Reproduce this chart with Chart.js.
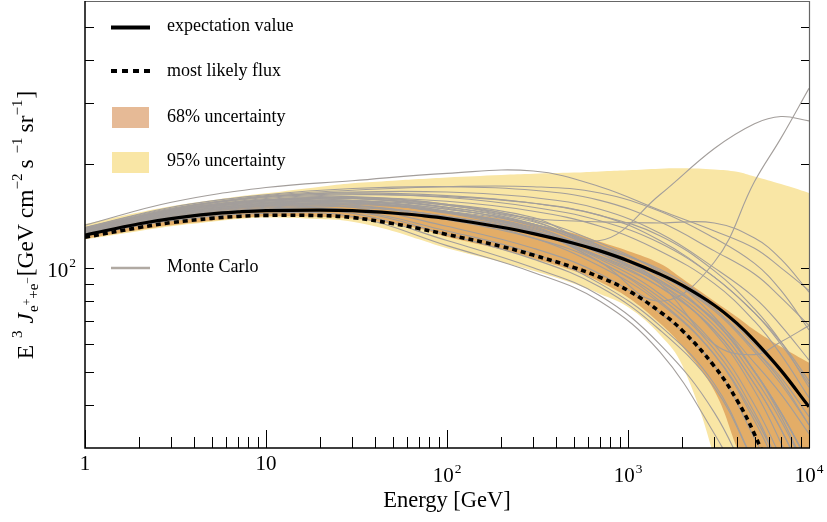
<!DOCTYPE html>
<html>
<head>
<meta charset="utf-8">
<script src="https://cdn.jsdelivr.net/npm/chart.js@4.4.1/dist/chart.umd.min.js"></script>
<style>
html, body { margin: 0; padding: 0; background: #fff; }
#wrap { width: 827px; height: 522px; }
</style>
</head>
<body>
<div id="wrap"><canvas id="grafico" width="827" height="522"></canvas></div>
<script>
// energies [GeV] where the bands and the two flux curves were read
const energy = [1, 2, 3, 5, 7, 10, 20, 30, 50, 70, 100, 200, 300, 500, 700, 1000, 1500, 2000, 3000, 4000, 5000, 7000, 10000];
const expectation = [124.5, 134.3, 139, 143.4, 145.3, 146.6, 147.1, 146.5, 144.3, 142.1, 139.1, 131.2, 125.7, 117.9, 112, 104.9, 95.9, 88.9, 77.9, 69, 61.5, 50.4, 39.5];
const mostLikely = [122.7, 131, 135.3, 139.2, 141, 142, 141.8, 140, 134.5, 130, 125, 115.4, 108.9, 100.3, 93.9, 86, 74.6, 65.7, 51.8, 41.3, 32.9, 21.5, 12.3];
const upper68 = [128, 137, 142, 147, 150, 152, 154, 154, 152, 150, 146, 139, 134, 126, 119, 112, 103, 93, 80, 72, 66, 59, 53];
const lower68 = [121.5, 129, 133, 137, 139.5, 141, 140.5, 139, 134, 130, 123, 113, 106.5, 98, 91, 82, 69, 59, 44, 30, 22, 14, 8];
const upper95 = [134, 145, 151, 157, 161, 164.5, 172, 176, 179, 181, 183, 186, 187.5, 189, 190.5, 192, 194, 194.5, 193, 190, 184, 175, 165];
const lower95 = [121, 128, 132, 136, 138.5, 140, 138.5, 136, 128, 121, 114, 104, 98, 90, 84, 77, 64, 52, 28, 14, 9, 6, 4];

// Monte Carlo curves, read on a coarser grid
const mcEnergy = [1, 3, 10, 30, 100, 300, 700, 1500, 3000, 5000, 7000, 10000];
const monteCarlo = [
    [128, 145, 156, 160, 156, 146, 132, 112, 90, 70, 56, 42],
    [127, 143, 153, 156, 148, 134, 116, 98, 76, 58, 47, 35],
    [129, 146, 157, 160, 152, 138, 118, 97, 72, 50, 37, 25],
    [126, 141, 151, 153, 146, 133, 114, 96, 76, 58, 48, 37],
    [130, 148, 160, 164, 160, 150, 137, 118, 94, 74, 61, 47],
    [127, 142, 152, 154, 145, 130, 110, 90, 68, 48, 36, 25],
    [128, 144, 154, 155, 145, 127, 106, 84, 60, 40, 28, 18],
    [126, 140, 149, 150, 141, 127, 108, 88, 66, 46, 34, 23],
    [129, 147, 157, 159, 150, 134, 112, 90, 65, 44, 31, 20],
    [131, 149, 161, 165, 162, 154, 142, 124, 98, 76, 61, 45],
    [125, 139, 148, 147, 128, 110, 90, 68, 46, 27],
    [127, 143, 152, 152, 140, 122, 101, 79, 56, 37, 26, 17],
    [128, 145, 155, 157, 150, 136, 115, 99, 78, 60, 50, 40],
    [126, 141, 150, 151, 141, 126, 108, 91, 71, 53, 43, 33],
    [130, 147, 158, 161, 153, 137, 113, 94, 70, 50, 38, 27],
    [129, 146, 156, 157, 146, 128, 104, 82, 58, 38, 26, 17],
    [127, 142, 151, 150, 132, 114, 96, 74, 52, 32, 22],
    [128, 144, 153, 154, 145, 131, 111, 95, 75, 57, 46, 35],
    [126, 140, 148, 146, 125, 106, 88, 66, 45, 27],
    [129, 146, 157, 159, 149, 132, 110, 92, 70, 50, 38, 27],
    [125, 138, 146, 144, 120, 100, 83, 60, 38, 22],
    [128, 145, 155, 156, 146, 129, 107, 88, 66, 46, 34, 23],
    [124, 137, 144, 141, 116, 97, 80, 57, 33, 20],
    [127, 143, 152, 152, 138, 122, 104, 80, 56, 36, 25],
    [128, 144, 154, 155, 144, 128, 113, 92, 70, 50, 38, 27],
    [133, 155, 171, 179, 188, 191, 172, 147, 128, 114, 100, 86],
    [129, 146, 157, 160, 153, 140, 120, 163, 222, 262, 275, 267],
    [128, 144, 154, 155, 145, 128, 104, 80, 104, 178, 238, 332],
    [130, 146, 157, 159, 152, 139, 136, 135, 135, 122, 106, 85],
    [130, 148, 162, 168, 172, 172, 165, 146, 122, 103, 86, 66],
    [131, 150, 163, 170, 172, 168, 157, 136, 112, 96, 82, 68],
    [130, 148, 161, 166, 166, 160, 148, 126, 100, 82, 68, 54],
    [129, 147, 159, 163, 161, 154, 142, 120, 94, 74, 60, 46],
    [128, 144, 154, 156, 148, 134, 116, 90, 60, 56, 61, 68]
];

const xMajor = [1, 10, 100, 1000, 10000];
const xLabels = [["1", ""], ["10", ""], ["10", "2"], ["10", "3"], ["10", "4"]];
const yTicks = [40, 50, 60, 70, 80, 90, 100, 200, 300, 400, 500];
const yLabelled = [100];
const yLabels = [["10", "2"]];
const legendLabels = ["expectation value", "most likely flux", "68% uncertainty", "95% uncertainty", "Monte Carlo"];

const SERIF = '"Liberation Serif", "Times New Roman", serif';
const MC_COLOR = "#a39e9b";
const C68 = "#e3ad67";
const C95 = "#f9e6a5";

function points(xs, ys) {
    return ys.map((v, i) => ({ x: xs[i], y: v }));
}

function drawPower(ctx, base, exp, x, baseline, size, align) {
    ctx.font = `${size}px ${SERIF}`;
    const wb = ctx.measureText(base).width;
    const small = size * 0.64;
    ctx.font = `${small}px ${SERIF}`;
    const we = exp ? ctx.measureText(exp).width + 1 : 0;
    let left = x - (wb + we) / 2;
    if (align === "right") left = x - wb - we;
    ctx.textAlign = "left";
    ctx.textBaseline = "alphabetic";
    ctx.font = `${size}px ${SERIF}`;
    ctx.fillText(base, left, baseline);
    if (exp) {
        ctx.font = `${small}px ${SERIF}`;
        ctx.fillText(exp, left + wb + 1, baseline - size * 0.45);
    }
}

function drawRich(ctx, pieces) {
    let x = 0;
    const parts = pieces.map(p => {
        ctx.font = `${p.italic ? "italic " : ""}${p.size}px ${SERIF}`;
        const w = ctx.measureText(p.t).width;
        const part = { ...p, x: x, w: w };
        x += w + (p.gap || 0);
        return part;
    });
    const total = x;
    parts.forEach(p => {
        ctx.font = `${p.italic ? "italic " : ""}${p.size}px ${SERIF}`;
        ctx.fillText(p.t, p.x - total / 2, p.dy || 0);
    });
}

const decorations = {
    id: "decorations",
    beforeDraw(chart) {
        const ctx = chart.ctx;
        ctx.save();
        ctx.fillStyle = "#fff";
        ctx.fillRect(0, 0, chart.width, chart.height);
        ctx.restore();
    },
    afterDraw(chart) {
        const { ctx, chartArea: a, scales: { x, y } } = chart;
        ctx.save();

        // frame
        ctx.lineWidth = 1.2;
        ctx.strokeStyle = "#666";
        ctx.beginPath();
        ctx.moveTo(a.left, a.top + 0.5);
        ctx.lineTo(a.right, a.top + 0.5);
        ctx.moveTo(a.right + 0.5, a.top);
        ctx.lineTo(a.right + 0.5, a.bottom);
        ctx.stroke();
        ctx.strokeStyle = "#000";
        ctx.lineWidth = 1.5;
        ctx.beginPath();
        ctx.moveTo(a.left, a.top);
        ctx.lineTo(a.left, a.bottom);
        ctx.lineTo(a.right + 1, a.bottom);
        ctx.stroke();

        // ticks, pointing inward
        ctx.lineWidth = 1;
        ctx.beginPath();
        for (let d = 1; d < 10000; d *= 10) {
            for (let m = 1; m <= 9; m++) {
                const px = Math.round(x.getPixelForValue(d * m)) + 0.5;
                const len = m === 1 ? 18 : 11;
                ctx.moveTo(px, a.bottom);
                ctx.lineTo(px, a.bottom - len);
            }
        }
        const pr = Math.round(x.getPixelForValue(10000)) + 0.5;
        ctx.moveTo(pr, a.bottom);
        ctx.lineTo(pr, a.bottom - 18);
        yTicks.forEach(v => {
            const py = Math.round(y.getPixelForValue(v)) + 0.5;
            ctx.moveTo(a.left, py);
            ctx.lineTo(a.left + 9, py);
            ctx.moveTo(a.right, py);
            ctx.lineTo(a.right - 8, py);
        });
        ctx.stroke();

        // tick labels
        ctx.fillStyle = "#000";
        xMajor.forEach((v, i) => {
            const px = x.getPixelForValue(v);
            const [base, exp] = xLabels[i];
            drawPower(ctx, base, exp, px, exp ? 482 : 470, 21, "center");
        });
        yLabelled.forEach((v, i) => {
            const py = y.getPixelForValue(v);
            drawPower(ctx, yLabels[i][0], yLabels[i][1], 76, py + 9, 21, "right");
        });

        // axis titles
        ctx.font = `22.5px ${SERIF}`;
        ctx.textAlign = "center";
        ctx.textBaseline = "alphabetic";
        ctx.fillText("Energy [GeV]", 447, 507);

        ctx.save();
        ctx.translate(33, 225);
        ctx.rotate(-Math.PI / 2);
        ctx.textAlign = "left";
        const S = 23.5, s = 15, ss = 11.5;
        drawRich(ctx, [
            { t: "E", size: S, gap: 7 },
            { t: "3", size: s, dy: -11, gap: 7 },
            { t: "J", size: S, italic: true, gap: 1 },
            { t: "e", size: s, dy: 5 },
            { t: "+", size: ss, dy: -2 },
            { t: "+", size: s, dy: 5 },
            { t: "e", size: s, dy: 5 },
            { t: "\u2212", size: ss, dy: -2, gap: 1 },
            { t: "[GeV cm", size: S },
            { t: "\u22122", size: s, dy: -11, gap: 5 },
            { t: "s ", size: S },
            { t: "\u22121", size: s, dy: -11, gap: 5 },
            { t: "sr", size: S },
            { t: "\u22121", size: s, dy: -11, gap: 1 },
            { t: "]", size: S }
        ]);
        ctx.restore();

        // legend
        ctx.lineCap = "butt";
        ctx.strokeStyle = "#000";
        ctx.lineWidth = 4;
        ctx.beginPath();
        ctx.moveTo(111, 27.5);
        ctx.lineTo(150, 27.5);
        ctx.stroke();
        ctx.setLineDash([6, 5]);
        ctx.beginPath();
        ctx.moveTo(111, 71);
        ctx.lineTo(150, 71);
        ctx.stroke();
        ctx.setLineDash([]);
        ctx.fillStyle = "#e6ba96";
        ctx.fillRect(112, 107, 37, 21);
        ctx.fillStyle = C95;
        ctx.fillRect(112, 152, 37, 21);
        ctx.strokeStyle = "#b0a9a2";
        ctx.lineWidth = 2.5;
        ctx.beginPath();
        ctx.moveTo(111, 268);
        ctx.lineTo(150, 268);
        ctx.stroke();

        ctx.fillStyle = "#000";
        ctx.font = `18px ${SERIF}`;
        ctx.textAlign = "left";
        const baselines = [31, 76, 122, 166, 272];
        legendLabels.forEach((t, i) => ctx.fillText(t, 167, baselines[i]));

        ctx.restore();
    }
};

const datasets = [
    {
        data: points(energy, expectation),
        borderColor: "#000",
        borderWidth: 3.2,
        order: 0
    },
    {
        data: points(energy, mostLikely),
        borderColor: "#000",
        borderWidth: 3.6,
        borderDash: [5, 4],
        order: 1
    },
    ...monteCarlo.map(line => ({
        data: points(mcEnergy, line),
        borderColor: MC_COLOR,
        borderWidth: 1.1,
        order: 2
    })),
    {
        data: points(energy, upper68),
        borderWidth: 0,
        borderColor: "rgba(0,0,0,0)",
        backgroundColor: C68,
        fill: "+1",
        order: 3
    },
    {
        data: points(energy, lower68),
        borderWidth: 0,
        borderColor: "rgba(0,0,0,0)",
        order: 3
    },
    {
        data: points(energy, upper95),
        borderWidth: 0,
        borderColor: "rgba(0,0,0,0)",
        backgroundColor: C95,
        fill: "+1",
        order: 4
    },
    {
        data: points(energy, lower95),
        borderWidth: 0,
        borderColor: "rgba(0,0,0,0)",
        order: 4
    }
];

new Chart(document.getElementById("grafico"), {
    type: "line",
    data: { datasets: datasets },
    options: {
        responsive: false,
        animation: false,
        layout: { padding: { top: 1, right: 18, left: 0, bottom: 0 } },
        elements: {
            point: { radius: 0, hoverRadius: 0 },
            line: { tension: 0.4, fill: false }
        },
        datasets: { line: { clip: 0 } },
        plugins: { legend: { display: false }, tooltip: { enabled: false } },
        scales: {
            x: {
                type: "logarithmic",
                min: 1,
                max: 10000,
                grid: { display: false },
                border: { display: false },
                ticks: { display: false },
                afterFit(scale) { scale.height = 74; }
            },
            y: {
                type: "logarithmic",
                min: 30,
                max: 595,
                grid: { display: false },
                border: { display: false },
                ticks: { display: false },
                afterFit(scale) { scale.width = 85; }
            }
        }
    },
    plugins: [decorations]
});
</script>
</body>
</html>
